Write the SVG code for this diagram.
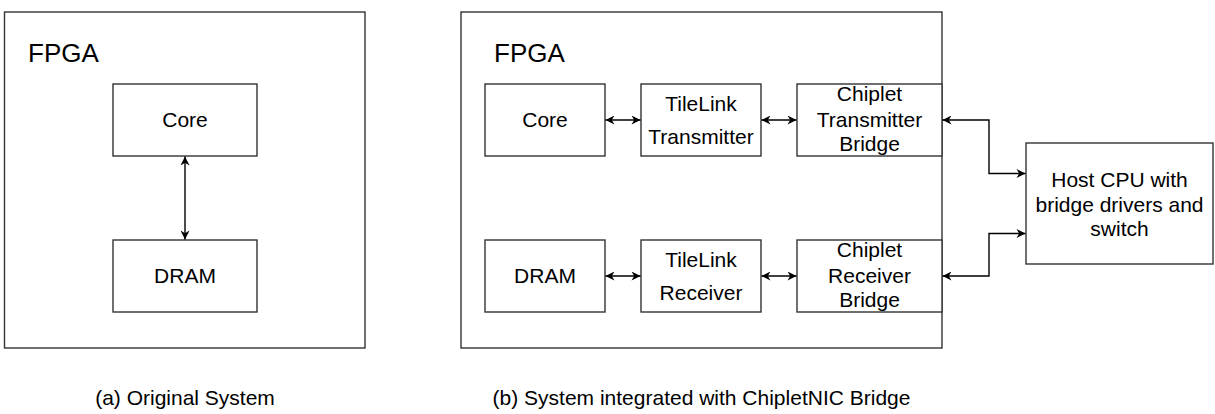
<svg xmlns="http://www.w3.org/2000/svg" width="1215" height="414" viewBox="0 0 1215 414">
  <style>
    .box { fill: #ffffff; stroke: #333333; stroke-width: 1.4; }
    .frame { fill: #ffffff; stroke: #333333; stroke-width: 1.4; }
    .lbl { font-family: "Liberation Sans", Arial, sans-serif; font-size: 21px; fill: #000000; text-anchor: middle; }
    .title { font-family: "Liberation Sans", Arial, sans-serif; font-size: 26px; fill: #000000; }
    .cap { font-family: "Liberation Sans", Arial, sans-serif; font-size: 21px; fill: #000000; text-anchor: middle; }
    .wire { fill: none; stroke: #000000; stroke-width: 1.4; marker-start: url(#arrow); marker-end: url(#arrow); }
  </style>
  <defs>
    <marker id="arrow" viewBox="0 0 10 10" refX="10" refY="5" markerWidth="10" markerHeight="9" markerUnits="userSpaceOnUse" orient="auto-start-reverse">
      <path d="M0,0 L10,5 L0,10 L3,5 z" fill="#000000"/>
    </marker>
  </defs>

  <rect x="0" y="0" width="1215" height="414" fill="#ffffff"/>

  <!-- (a) original system -->
  <g id="fpga-a">
    <rect class="frame" x="4.5" y="12" width="360.5" height="336"/>
    <text class="title" x="28" y="62">FPGA</text>
  </g>
  <g id="core-a">
    <rect class="box" x="113" y="84" width="144" height="72"/>
    <text class="lbl" x="185" y="127">Core</text>
  </g>
  <g id="dram-a">
    <rect class="box" x="113" y="240" width="144" height="72"/>
    <text class="lbl" x="185" y="283">DRAM</text>
  </g>
  <text class="cap" x="185" y="405">(a) Original System</text>

  <!-- (b) system with the bridge -->
  <g id="fpga-b">
    <rect class="frame" x="461" y="12" width="481" height="336"/>
    <text class="title" x="494" y="62">FPGA</text>
  </g>
  <g id="core-b">
    <rect class="box" x="485" y="84" width="120" height="72"/>
    <text class="lbl" x="545" y="127">Core</text>
  </g>
  <g id="tl-tx">
    <rect class="box" x="641" y="84" width="120" height="72"/>
    <text class="lbl" x="701" y="111">TileLink</text>
    <text class="lbl" x="701" y="144">Transmitter</text>
  </g>
  <g id="chiplet-tx">
    <rect class="box" x="797" y="84" width="145" height="72"/>
    <text class="lbl" x="869.5" y="101">Chiplet</text>
    <text class="lbl" x="869.5" y="126.5">Transmitter</text>
    <text class="lbl" x="869.5" y="151">Bridge</text>
  </g>
  <g id="dram-b">
    <rect class="box" x="485" y="240" width="120" height="72"/>
    <text class="lbl" x="545" y="283">DRAM</text>
  </g>
  <g id="tl-rx">
    <rect class="box" x="641" y="240" width="120" height="72"/>
    <text class="lbl" x="701" y="267">TileLink</text>
    <text class="lbl" x="701" y="300">Receiver</text>
  </g>
  <g id="chiplet-rx">
    <rect class="box" x="797" y="240" width="145" height="72"/>
    <text class="lbl" x="869.5" y="257">Chiplet</text>
    <text class="lbl" x="869.5" y="282.5">Receiver</text>
    <text class="lbl" x="869.5" y="307">Bridge</text>
  </g>
  <g id="host">
    <rect class="box" x="1026" y="143" width="187" height="121"/>
    <text class="lbl" x="1119.5" y="187">Host CPU with</text>
    <text class="lbl" x="1119.5" y="211.5">bridge drivers and</text>
    <text class="lbl" x="1119.5" y="236">switch</text>
  </g>
  <text class="cap" x="701.5" y="405">(b) System integrated with ChipletNIC Bridge</text>

  <!-- bidirectional links -->
  <g id="connectors">
    <path class="wire" d="M185,156.5 L185,239.5"/>
    <path class="wire" d="M605.5,120 L640.5,120"/>
    <path class="wire" d="M761.5,120 L796.5,120"/>
    <path class="wire" d="M605.5,276 L640.5,276"/>
    <path class="wire" d="M761.5,276 L796.5,276"/>
    <path class="wire" d="M942.5,120 L989,120 L989,173.5 L1025.5,173.5"/>
    <path class="wire" d="M942.5,276 L989,276 L989,233.5 L1025.5,233.5"/>
  </g>
</svg>
